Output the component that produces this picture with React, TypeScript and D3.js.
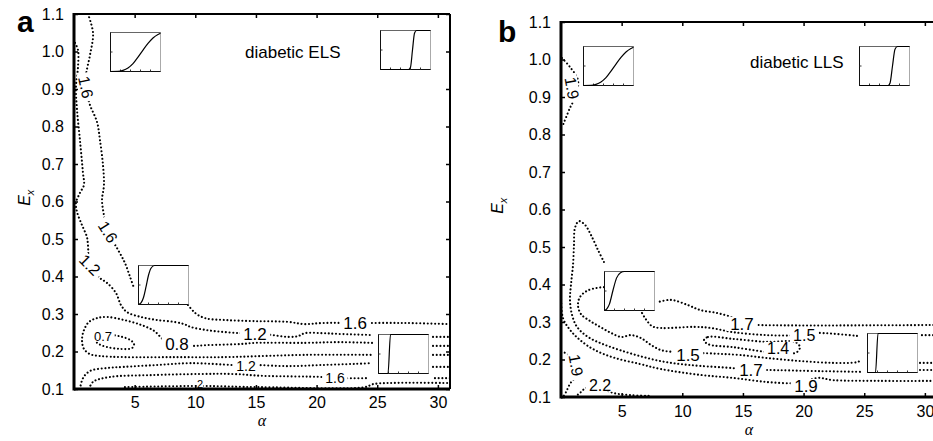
import React, { useEffect, useRef } from "react";
import * as d3 from "d3";

type Pt = [number, number];

// axis ticks (alpha on x, Ex on y)
const alphaTicks = [5, 10, 15, 20, 25, 30];
const exTicks = [0.1, 0.2, 0.3, 0.4, 0.5, 0.6, 0.7, 0.8, 0.9, 1.0, 1.1];

// ---- panel a : diabetic ELS contours, [alpha, Ex]
const a16Top: Pt[] = [[1.15, 1.1], [1.57, 1.049], [1.32, 0.991], [0.99, 0.937], [0.99, 0.897], [1.32, 0.857], [1.9, 0.812], [2.14, 0.764], [2.39, 0.697], [2.47, 0.644], [2.31, 0.604], [2.47, 0.564], [2.8, 0.519], [3.63, 0.471], [4.2, 0.436], [4.62, 0.399], [4.95, 0.369]];
const a16Mid: Pt[] = [[9.4, 0.324], [9.98, 0.303], [10.8, 0.289], [12.45, 0.284], [14.92, 0.281], [17.64, 0.279], [19.04, 0.273], [20.45, 0.276], [23.17, 0.276], [27.29, 0.276], [31, 0.273]];
const a12Top: Pt[] = [[0.08, 1.023], [0.33, 1.004], [0.33, 0.959], [0.16, 0.905], [0.25, 0.844], [0.49, 0.764], [0.74, 0.676], [0.82, 0.644], [0.49, 0.623], [0.16, 0.596], [0.25, 0.572], [0.66, 0.537], [1.07, 0.505], [1.15, 0.484], [1.32, 0.431], [2.14, 0.396], [2.72, 0.383], [3.46, 0.356], [3.87, 0.324], [4.37, 0.305], [5.52, 0.292], [6.84, 0.284], [8.24, 0.279], [9.07, 0.273], [9.65, 0.265], [10.96, 0.257], [12.37, 0.252], [13.77, 0.249], [14.92, 0.249], [16.32, 0.244], [17.64, 0.239], [18.47, 0.241], [19.04, 0.249], [20.45, 0.249], [21.76, 0.247], [24.57, 0.244]];
const a12TopEnd: Pt[] = [[29.6, 0.239], [31, 0.239]];
const a08: Pt[] = [[24.57, 0.223], [21.76, 0.225], [19.04, 0.223], [14.92, 0.223], [13.77, 0.22], [10.96, 0.217], [9.65, 0.215], [8.49, 0.22], [7.42, 0.231], [6.6, 0.255], [5.52, 0.271], [4.12, 0.284], [2.72, 0.292], [1.9, 0.289], [1.24, 0.279], [0.82, 0.257], [0.66, 0.231], [0.82, 0.207], [1.32, 0.193], [2.14, 0.188], [4.12, 0.185], [8.24, 0.185], [12.37, 0.185], [15.66, 0.188], [19.04, 0.191], [24.57, 0.191]];
const a08EndUp: Pt[] = [[29.6, 0.215], [31, 0.215]];
const a08EndLow: Pt[] = [[29.6, 0.191], [31, 0.191]];
const a07: Pt[] = [[1.57, 0.236], [2.14, 0.244], [3.13, 0.244], [3.96, 0.239], [4.62, 0.231], [4.95, 0.22], [4.78, 0.209], [3.79, 0.207], [2.72, 0.212], [2.06, 0.22]];
const a12Low: Pt[] = [[0.49, 0.1], [0.74, 0.129], [1.32, 0.148], [2.72, 0.156], [4.12, 0.159], [6.84, 0.164], [9.65, 0.169], [13.19, 0.164], [14.92, 0.164], [17.64, 0.161], [20.45, 0.164], [23.17, 0.167], [24.57, 0.169]];
const a12LowEnd: Pt[] = [[29.6, 0.159], [31, 0.159]];
const a16Low: Pt[] = [[1.24, 0.1], [1.57, 0.119], [2.97, 0.132], [6.27, 0.137], [10.39, 0.14], [13.11, 0.14], [15.66, 0.135], [20.45, 0.132], [21.52, 0.129], [24.24, 0.129]];
const a16LowEnd: Pt[] = [[29.76, 0.129], [31, 0.129]];
const a20: Pt[] = [[4.2, 0.105], [10.39, 0.108], [15.33, 0.105], [23.99, 0.105], [24.65, 0.113], [26.05, 0.116], [31, 0.116]];

const contoursA: Pt[][] = [a16Top, a16Mid, a12Top, a12TopEnd, a08, a08EndUp, a08EndLow, a12Low, a12LowEnd, a16Low, a16LowEnd, a20];
const loopsA: Pt[][] = [a07];

const labelsA = [
  { t: "1.6", a: 0.99, e: 0.905, r: 78, s: 16 },
  { t: "1.6", a: 2.8, e: 0.519, r: 58, s: 16 },
  { t: "1.2", a: 1.32, e: 0.431, r: 45, s: 16 },
  { t: "1.6", a: 23.17, e: 0.276, r: 0, s: 17 },
  { t: "1.2", a: 14.92, e: 0.247, r: 0, s: 17 },
  { t: "0.7", a: 2.39, e: 0.241, r: 0, s: 13 },
  { t: "0.8", a: 8.49, e: 0.22, r: 0, s: 17 },
  { t: "1.2", a: 14.18, e: 0.161, r: 0, s: 14 },
  { t: "1.6", a: 21.52, e: 0.129, r: 0, s: 14 },
  { t: "2", a: 10.39, e: 0.112, r: 0, s: 11 },
];

// ---- panel b : diabetic LLS contours
const b19Top: Pt[] = [[0.08, 1.004], [0.74, 0.98], [1.4, 0.945], [1.24, 0.905], [0.74, 0.871], [0.16, 0.825]];
const b17Upper: Pt[] = [[31, 0.292], [16.16, 0.292], [14.92, 0.295], [14.18, 0.311], [12.86, 0.324], [11.46, 0.332], [10.47, 0.345], [9.07, 0.359], [8.0, 0.353]];
const b17Tongue: Pt[] = [[3.54, 0.46], [3.05, 0.492], [2.47, 0.532], [1.98, 0.559], [1.48, 0.569], [1.15, 0.551], [1.07, 0.505], [0.99, 0.452], [0.82, 0.399], [0.74, 0.359], [0.91, 0.319], [1.32, 0.287], [2.23, 0.26], [3.46, 0.241], [4.86, 0.225], [6.51, 0.209], [8.16, 0.196], [9.81, 0.188], [11.46, 0.183], [14.18, 0.177], [15.66, 0.172], [16.98, 0.172], [21.35, 0.169], [24.65, 0.167]];
const b17End: Pt[] = [[29.6, 0.172], [31, 0.172]];
const b15Upper: Pt[] = [[24.4, 0.263], [20.77, 0.271], [19.7, 0.265], [16.98, 0.265], [14.18, 0.273], [12.37, 0.284], [10.96, 0.287], [8.24, 0.284], [7.5, 0.289], [6.92, 0.311], [6.6, 0.329]];
const b15UpperEnd: Pt[] = [[29.76, 0.265], [31, 0.265]];
const b15Lower: Pt[] = [[3.54, 0.393], [2.97, 0.391], [2.14, 0.383], [1.57, 0.367], [1.4, 0.345], [1.65, 0.321], [2.39, 0.303], [3.22, 0.287], [4.12, 0.271], [4.95, 0.26], [5.77, 0.265], [6.6, 0.257], [7.42, 0.239], [8.24, 0.225], [9.32, 0.22], [10.47, 0.215], [11.54, 0.217], [13.11, 0.215], [14.76, 0.212], [16.98, 0.204], [19.7, 0.196], [22.42, 0.191], [24.4, 0.193], [24.81, 0.199]];
const b15LowerEnd: Pt[] = [[29.6, 0.191], [31, 0.191]];
const b14: Pt[] = [[11.79, 0.252], [12.12, 0.26], [14.18, 0.255], [16.98, 0.247], [19.29, 0.247], [19.7, 0.233], [19.46, 0.22], [18.88, 0.215], [16.98, 0.22], [14.18, 0.233], [12.12, 0.241]];
const b19Main: Pt[] = [[0, 0.369], [0.16, 0.311], [0.74, 0.279], [1.57, 0.252], [2.8, 0.225], [4.45, 0.204], [6.51, 0.188], [8.16, 0.175], [11.46, 0.159], [14.18, 0.151], [16.98, 0.14], [19.13, 0.137], [20.2, 0.142], [21.19, 0.151], [22.42, 0.145], [26.3, 0.143], [31, 0.143]];
const b19Low: Pt[] = [[0, 0.22], [0.41, 0.217], [0.99, 0.204], [1.32, 0.183], [1.15, 0.153], [0.74, 0.135], [0.41, 0.113], [0.16, 0.1]];
const b22: Pt[] = [[1.15, 0.1], [1.57, 0.111], [2.06, 0.124], [3.22, 0.124], [4.29, 0.111], [5.69, 0.105], [7.34, 0.103]];

const contoursB: Pt[][] = [b19Top, b17Upper, b17Tongue, b17End, b15Upper, b15UpperEnd, b15Lower, b15LowerEnd, b19Main, b19Low, b22];
const loopsB: Pt[][] = [b14];

const labelsB = [
  { t: "1.9", a: 0.91, e: 0.924, r: 80, s: 16 },
  { t: "1.7", a: 14.92, e: 0.295, r: 0, s: 17 },
  { t: "1.5", a: 20.05, e: 0.264, r: 0, s: 16 },
  { t: "1.4", a: 17.9, e: 0.229, r: 0, s: 16 },
  { t: "1.5", a: 10.47, e: 0.212, r: 0, s: 17 },
  { t: "1.7", a: 15.66, e: 0.172, r: 0, s: 17 },
  { t: "1.9", a: 20.2, e: 0.129, r: 0, s: 17 },
  { t: "1.9", a: 1.24, e: 0.185, r: 80, s: 16 },
  { t: "2.2", a: 3.22, e: 0.132, r: 0, s: 16 },
];

// inset sigmoid shapes, [u, v] in 0..1
const gentle: Pt[] = [[0, 0], [0.15, 0.005], [0.25, 0.03], [0.35, 0.09], [0.45, 0.2], [0.55, 0.37], [0.65, 0.55], [0.75, 0.72], [0.85, 0.86], [0.95, 0.95], [1, 0.98]];
const lateStepA: Pt[] = [[0, 0], [0.56, 0], [0.6, 0.06], [0.64, 0.5], [0.68, 0.93], [0.72, 1], [1, 1]];
const lateStepB: Pt[] = [[0, 0], [0.57, 0], [0.61, 0.06], [0.66, 0.5], [0.71, 0.93], [0.76, 1], [1, 1]];
const earlyA: Pt[] = [[0, 0], [0.05, 0.04], [0.1, 0.18], [0.15, 0.45], [0.2, 0.75], [0.25, 0.93], [0.32, 1], [1, 1]];
const earlyB: Pt[] = [[0, 0], [0.05, 0.05], [0.1, 0.17], [0.17, 0.52], [0.24, 0.83], [0.32, 0.97], [0.4, 1], [1, 1]];
const stepA: Pt[] = [[0, 0], [0.19, 0], [0.24, 1], [1, 1]];
const stepB: Pt[] = [[0, 0], [0.16, 0], [0.21, 1], [1, 1]];

const insetsA = [
  { a: 2.97, e: 1.052, c: gentle },
  { a: 25.23, e: 1.057, c: lateStepA },
  { a: 5.28, e: 0.431, c: earlyA },
  { a: 25.06, e: 0.247, c: stepA },
];
const insetsB = [
  { a: 1.81, e: 1.036, c: gentle },
  { a: 24.57, e: 1.036, c: lateStepB },
  { a: 3.54, e: 0.436, c: earlyB },
  { a: 25.23, e: 0.271, c: stepB },
];

const FONT = "'Liberation Sans', Arial, Helvetica, sans-serif";

function drawPanel(root, cfg) {
  const x = d3.scaleLinear().domain([0, 31]).range([cfg.left, cfg.left + 376]);
  const y = d3.scaleLinear().domain([0.1, 1.1]).range([cfg.bottom, cfg.bottom - 375]);
  const g = root.append("g");

  const line = d3.line<Pt>().x(d => x(d[0])).y(d => y(d[1])).curve(d3.curveCatmullRom.alpha(0.5));
  const loop = d3.line<Pt>().x(d => x(d[0])).y(d => y(d[1])).curve(d3.curveCatmullRomClosed.alpha(0.5));

  const dotted = sel => sel
    .attr("fill", "none")
    .attr("stroke", "#000")
    .attr("stroke-width", 2.1)
    .attr("stroke-linecap", "round")
    .attr("stroke-dasharray", "0.01 3.7");

  g.selectAll("path.c").data(cfg.contours).enter().append("path").attr("class", "c").attr("d", d => line(d)).call(dotted);
  g.selectAll("path.l").data(cfg.loops).enter().append("path").attr("class", "l").attr("d", d => loop(d)).call(dotted);

  // contour labels, cut into the line with a white box
  const labs = g.selectAll("g.lab").data(cfg.labels).enter().append("g")
    .attr("class", "lab")
    .attr("transform", d => `translate(${x(d.a)},${y(d.e)}) rotate(${d.r})`);
  labs.append("rect")
    .attr("x", d => -d.t.length * d.s * 0.3)
    .attr("width", d => d.t.length * d.s * 0.6)
    .attr("y", d => -d.s * 0.42)
    .attr("height", d => d.s * 0.84)
    .attr("fill", "#fff");
  labs.append("text")
    .attr("text-anchor", "middle")
    .attr("dy", "0.36em")
    .attr("font-family", FONT)
    .attr("font-size", d => d.s)
    .attr("fill", "#000")
    .text(d => d.t);

  // insets
  const iw = 50, ih = 39;
  const xi = d3.scaleLinear().domain([0, 1]).range([0, iw]);
  const yi = d3.scaleLinear().domain([0, 1]).range([ih, 0]);
  const iline = d3.line<Pt>().x(d => xi(d[0])).y(d => yi(d[1])).curve(d3.curveMonotoneX);
  const ins = g.selectAll("g.inset").data(cfg.insets).enter().append("g")
    .attr("transform", d => `translate(${Math.round(x(d.a)) + 0.5},${Math.round(y(d.e)) + 0.5})`);
  ins.append("rect").attr("width", iw).attr("height", ih).attr("fill", "#fff").attr("stroke", "#666").attr("stroke-width", 1);
  ins.append("line").attr("x1", iw).attr("x2", iw).attr("y1", 0).attr("y2", ih).attr("stroke", "#aaa");
  ins.append("line").attr("x1", 0).attr("x2", 0).attr("y1", 0).attr("y2", ih).attr("stroke", "#111");
  ins.append("line").attr("x1", 0).attr("x2", iw).attr("y1", ih).attr("y2", ih).attr("stroke", "#111");
  ins.selectAll("line.t").data([0.2, 0.4, 0.6, 0.8]).enter().append("line")
    .attr("x1", d => xi(d)).attr("x2", d => xi(d)).attr("y1", ih).attr("y2", ih - 2).attr("stroke", "#333");
  ins.append("line").attr("x1", 0).attr("x2", 2).attr("y1", ih / 2).attr("y2", ih / 2).attr("stroke", "#333");
  ins.append("path").attr("d", d => iline(d.c)).attr("fill", "none").attr("stroke", "#000").attr("stroke-width", 1.2);

  // axes (ticks point inward)
  const styleAxis = ax => {
    ax.select(".domain").remove();
    ax.attr("font-family", FONT).attr("font-size", 16);
    ax.selectAll("line").attr("stroke", "#000").attr("stroke-width", 1.5);
  };
  g.append("g").attr("transform", `translate(${cfg.left},0)`)
    .call(d3.axisLeft(y).tickValues(exTicks).tickSizeInner(-4).tickSizeOuter(0).tickPadding(10).tickFormat(d3.format(".1f")))
    .call(styleAxis);
  g.append("g").attr("transform", `translate(0,${cfg.bottom})`)
    .call(d3.axisBottom(x).tickValues(alphaTicks).tickSizeInner(-4).tickSizeOuter(0).tickPadding(cfg.xPad).tickFormat(d3.format("d")))
    .call(styleAxis);
  g.append("g").attr("transform", `translate(0,${cfg.bottom - 375})`)
    .call(d3.axisTop(x).tickValues(alphaTicks).tickSizeInner(-4).tickSizeOuter(0).tickFormat(() => ""))
    .call(styleAxis);
  g.append("g").attr("transform", `translate(${cfg.left + 376},0)`)
    .call(d3.axisRight(y).tickValues(exTicks).tickSizeInner(-4).tickSizeOuter(0).tickFormat(() => ""))
    .call(styleAxis);

  // frame
  const top = cfg.bottom - 375, right = cfg.left + 376;
  g.append("line").attr("x1", cfg.left).attr("x2", right).attr("y1", top).attr("y2", top).attr("stroke", "#000").attr("stroke-width", 2);
  g.append("line").attr("x1", right).attr("x2", right).attr("y1", top).attr("y2", cfg.bottom).attr("stroke", "#000").attr("stroke-width", 2);
  g.append("line").attr("x1", cfg.left).attr("x2", cfg.left).attr("y1", top - 1).attr("y2", cfg.bottom + 1.5).attr("stroke", "#000").attr("stroke-width", 3);
  g.append("line").attr("x1", cfg.left).attr("x2", right).attr("y1", cfg.bottom).attr("y2", cfg.bottom).attr("stroke", "#000").attr("stroke-width", 3);

  // titles and axis names
  g.append("text").attr("x", x(cfg.title.a)).attr("y", y(cfg.title.e))
    .attr("font-family", FONT).attr("font-size", 17).text(cfg.title.t);
  g.append("text").attr("x", cfg.letter.x).attr("y", cfg.letter.y)
    .attr("font-family", FONT).attr("font-size", 30).attr("font-weight", "bold").text(cfg.letter.t);
  g.append("text").attr("x", x(15.5)).attr("y", cfg.bottom + cfg.alphaDy)
    .attr("text-anchor", "middle").attr("font-family", "'Liberation Serif', 'Times New Roman', serif")
    .attr("font-style", "italic").attr("font-size", 16).text("α");
  const ey = g.append("text").attr("transform", `translate(${cfg.exX},${y(0.61)}) rotate(-90)`)
    .attr("text-anchor", "middle").attr("font-family", FONT).attr("font-style", "italic").attr("font-size", 16);
  ey.append("tspan").text("E");
  ey.append("tspan").attr("font-size", 11).attr("dy", 4).text("x");
}

export default function App() {
  const ref = useRef<SVGSVGElement>(null);

  useEffect(() => {
    const svg = d3.select(ref.current);
    svg.selectAll("*").remove();
    svg.append("rect").attr("width", 933).attr("height", 441).attr("fill", "#fff");

    drawPanel(svg, {
      left: 74, bottom: 389, xPad: 8, alphaDy: 37, exX: 30,
      contours: contoursA, loops: loopsA, labels: labelsA, insets: insetsA,
      title: { t: "diabetic ELS", a: 14.1, e: 0.983 },
      letter: { t: "a", x: 17, y: 32 },
    });
    drawPanel(svg, {
      left: 561, bottom: 397, xPad: 9, alphaDy: 38, exX: 503,
      contours: contoursB, loops: loopsB, labels: labelsB, insets: insetsB,
      title: { t: "diabetic LLS", a: 15.58, e: 0.977 },
      letter: { t: "b", x: 498, y: 42 },
    });
  }, []);

  return (
    <svg ref={ref} width={933} height={441}
      style={{ position: "absolute", left: 0, top: 0, display: "block" }} />
  );
}
